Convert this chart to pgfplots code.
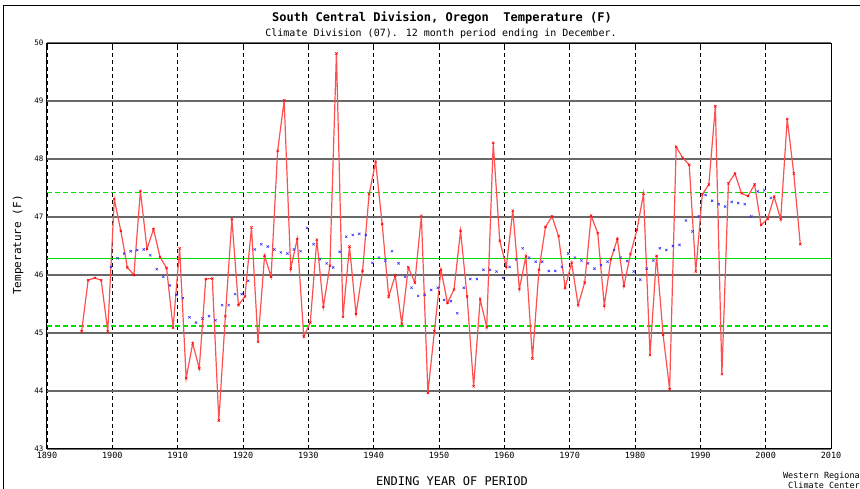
\documentclass[border=0pt]{standalone}
\usepackage{pgfplots}
\pgfplotsset{compat=1.18}
\usepackage{pgfplotstable}
\usepackage{fontspec}
\setmainfont{DejaVu Sans Mono}
\definecolor{grn}{RGB}{0,225,0}
\definecolor{redl}{RGB}{255,80,80}
\definecolor{gridc}{RGB}{105,105,105}
\definecolor{bluem}{RGB}{50,50,255}

\pgfplotstableread{
year temp
1895 45.03
1896 45.91
1897 45.95
1898 45.91
1899 45.03
1900 47.31
1901 46.76
1902 46.13
1903 46.00
1904 47.45
1905 46.45
1906 46.79
1907 46.31
1908 46.12
1909 45.09
1910 46.46
1911 44.22
1912 44.82
1913 44.39
1914 45.93
1915 45.94
1916 43.49
1917 45.29
1918 46.96
1919 45.48
1920 45.63
1921 46.82
1922 44.85
1923 46.33
1924 45.97
1925 48.14
1926 49.01
1927 46.11
1928 46.62
1929 44.94
1930 45.18
1931 46.61
1932 45.45
1933 46.16
1934 49.82
1935 45.28
1936 46.49
1937 45.33
1938 46.07
1939 47.39
1940 47.95
1941 46.88
1942 45.63
1943 45.99
1944 45.16
1945 46.13
1946 45.87
1947 47.02
1948 43.97
1949 45.03
1950 46.09
1951 45.52
1952 45.75
1953 46.76
1954 45.63
1955 44.08
1956 45.58
1957 45.10
1958 48.28
1959 46.59
1960 46.14
1961 47.11
1962 45.76
1963 46.32
1964 44.56
1965 46.09
1966 46.83
1967 47.01
1968 46.67
1969 45.78
1970 46.21
1971 45.48
1972 45.87
1973 47.02
1974 46.72
1975 45.47
1976 46.27
1977 46.62
1978 45.81
1979 46.36
1980 46.78
1981 47.40
1982 44.62
1983 46.33
1984 44.97
1985 44.03
1986 48.21
1987 48.02
1988 47.90
1989 46.06
1990 47.39
1991 47.56
1992 48.91
1993 44.29
1994 47.58
1995 47.75
1996 47.41
1997 47.36
1998 47.56
1999 46.86
2000 46.97
2001 47.35
2002 46.96
2003 48.69
2004 47.75
2005 46.53
}\redtab

\pgfplotstableread{
year avg
1900 46.14
1901 46.29
1902 46.37
1903 46.41
1904 46.43
1905 46.44
1906 46.34
1907 46.10
1908 45.97
1909 45.82
1910 45.66
1911 45.60
1912 45.27
1913 45.18
1914 45.25
1915 45.29
1916 45.22
1917 45.48
1918 45.48
1919 45.67
1920 45.67
1921 45.90
1922 46.44
1923 46.53
1924 46.49
1925 46.44
1926 46.39
1927 46.37
1928 46.44
1929 46.41
1930 46.81
1931 46.53
1932 46.27
1933 46.20
1934 46.13
1935 46.40
1936 46.66
1937 46.69
1938 46.71
1939 46.69
1940 46.21
1941 46.30
1942 46.25
1943 46.41
1944 46.20
1945 45.97
1946 45.78
1947 45.64
1948 45.66
1949 45.74
1950 45.78
1951 45.57
1952 45.55
1953 45.34
1954 45.78
1955 45.93
1956 45.93
1957 46.09
1958 46.09
1959 46.06
1960 45.95
1961 46.14
1962 46.27
1963 46.46
1964 46.30
1965 46.23
1966 46.23
1967 46.07
1968 46.07
1969 46.14
1970 46.37
1971 46.30
1972 46.25
1973 46.20
1974 46.11
1975 46.17
1976 46.23
1977 46.43
1978 46.30
1979 46.24
1980 46.06
1981 45.92
1982 46.11
1983 46.25
1984 46.46
1985 46.43
1986 46.50
1987 46.52
1988 46.94
1989 46.75
1990 47.01
1991 47.38
1992 47.28
1993 47.22
1994 47.18
1995 47.26
1996 47.24
1997 47.22
1998 47.01
1999 47.44
2000 47.46
2001 47.33
}\bluetab

\begin{document}
\begin{tikzpicture}[x=1pt,y=1pt]
\begin{axis}[
  at={(47pt,40pt)}, anchor=south west,
  scale only axis, width=784pt, height=406pt,
  xmin=1890, xmax=2010, ymin=43, ymax=50,
  xtick={1890,1900,...,2010}, ytick={43,44,...,50},
  /pgf/number format/assume math mode=true,
  /pgf/number format/1000 sep={},
  xticklabel style={font=\fontsize{8.5}{9}\selectfont},
  yticklabel style={font=\fontsize{7.5}{8}\selectfont},
  xmajorgrids, ymajorgrids,
  major x grid style={black, dash pattern=on 4pt off 3pt, line width=0.8pt},
  major y grid style={gridc, line width=1.6pt},
  axis line style={black, line width=1pt},
  major tick length=4pt,
  xtick style={black, line width=0.6pt},
  ytick style={draw=none},
]
\addplot[grn, line width=0.9pt] coordinates {(1890,46.28) (2010,46.28)};
\addplot[grn, line width=1.1pt, dash pattern=on 5pt off 3pt] coordinates {(1890,47.43) (2010,47.43)};
\addplot[grn, line width=1.1pt, dash pattern=on 5pt off 3pt] coordinates {(1890,45.12) (2010,45.12)};
\addplot[redl, line width=1.2pt, mark=x, mark size=1.6pt, mark options={red, line width=0.6pt, solid}] table[x expr=\thisrow{year}+0.3, y=temp] {\redtab};
\addplot[only marks, bluem, mark=x, mark size=1.6pt, mark options={line width=0.6pt}] table[x expr=\thisrow{year}-0.2, y=avg] {\bluetab};
\end{axis}
\node[font=\bfseries\fontsize{12}{14}\selectfont] at (442,471) {South Central Division, Oregon\ \ Temperature (F)};
\node[font=\fontsize{10}{12}\selectfont] at (441,455) {Climate Division (07). 12 month period ending in December.};
\node[rotate=90, font=\fontsize{11}{12}\selectfont] at (18,244) {Temperature (F)};
\node[font=\fontsize{12}{14}\selectfont] at (452,8) {ENDING YEAR OF PERIOD};
\node[align=center, font=\fontsize{8.5}{10}\selectfont, inner sep=0pt] at (824,9) {Western Regional\\Climate Center};
\draw[line width=0.8pt] (3,-5) -- (3,484) -- (870,484);
\pgfresetboundingbox
\path[use as bounding box] (0,0) rectangle (860,489);
\end{tikzpicture}
\end{document}
